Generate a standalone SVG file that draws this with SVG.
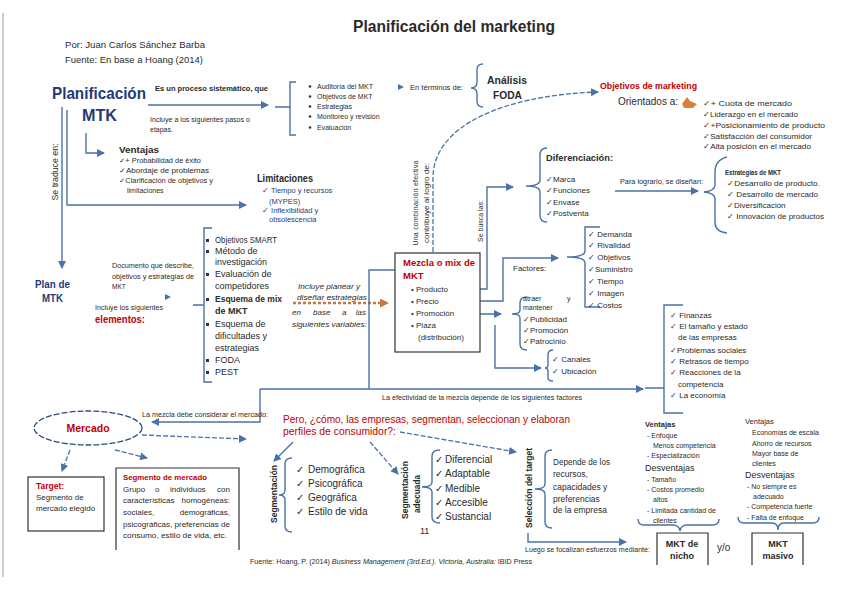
<svg xmlns="http://www.w3.org/2000/svg" width="848" height="599" viewBox="0 0 848 599">
<defs>
<style>
text{font-family:"Liberation Sans",Arial,sans-serif;fill:#2a2a2a}
.b{font-weight:bold}
.nv{fill:#1F3A7A}
.rd{fill:#C00000}
.i{font-style:italic}
.e{text-anchor:end}
.ln{stroke:#4A72A8;fill:none;stroke-width:1.4}
.dl{stroke:#4A72A8;fill:none;stroke-width:1.3;stroke-dasharray:5 2}
.bx{stroke:#333;fill:#fff;stroke-width:1.2}
.s65{font-size:6.5px}.s7{font-size:7px}.s75{font-size:7.5px}.s8{font-size:8px}.s85{font-size:8.5px}.s9{font-size:9px}.s10{font-size:10px}
</style>
<marker id="a" markerUnits="userSpaceOnUse" markerWidth="8" markerHeight="8" refX="7" refY="4" orient="auto"><path d="M0,0 L8,4 L0,8 z" fill="#4A72A8"/></marker>
<marker id="ao" markerUnits="userSpaceOnUse" markerWidth="9" markerHeight="9" refX="8" refY="4.5" orient="auto"><path d="M0,0 L9,4.5 L0,9 z" fill="#C8783C"/></marker>
</defs>
<rect width="848" height="599" fill="#fff"/>
<line x1="3" y1="13" x2="3" y2="577" stroke="#999" stroke-width="1"/>

<g id="title"><text x="353" y="32" font-size="16" class="b" textLength="202" lengthAdjust="spacingAndGlyphs">Planificación del marketing</text></g>
<g id="author">
<text x="65" y="48" class="s85" textLength="140" lengthAdjust="spacingAndGlyphs">Por: Juan Carlos Sánchez Barba</text>
<text x="65" y="63" class="s85" textLength="138" lengthAdjust="spacingAndGlyphs">Fuente: En base a Hoang (2014)</text>
</g>

<g id="connectors">
<path class="ln" d="M148,105 H268" marker-end="url(#a)"/>
<path class="ln" d="M275,107 H290 M296,82 H290 V135 H296"/>
<path class="ln" d="M483,64 Q477,64 477,70 V82 Q477,88 471,88 Q477,88 477,94 V101 Q477,107 483,107"/>
<path class="dl" d="M433,252 V178 C433,125 505,95 598,92" marker-end="url(#a)"/>
<path class="ln" d="M86,133 V153 H104" marker-end="url(#a)"/>
<path class="ln" d="M62,107 V268" marker-end="url(#a)"/>
<path class="ln" d="M67,110 V205 H246" marker-end="url(#a)"/>
<path class="ln" d="M212,228 H204 V382 H212 M193,305 H204"/>
<path d="M293,303 H388" stroke="#C8783C" stroke-width="2.5" stroke-dasharray="3 2" fill="none" marker-end="url(#ao)"/>
<path class="ln" d="M457,289 H487 V187 H513" marker-end="url(#a)"/>
<path class="ln" d="M547,148 Q540,148 540,155 V180 Q540,186 526,186 Q540,186 540,192 V215 Q540,222 547,222"/>
<path class="ln" d="M615,191 H698" marker-end="url(#a)"/>
<path class="ln" d="M727,157 Q715,160 715,172 V185 Q715,191 704,192 Q715,193 715,199 V222 Q715,232 727,233"/>
<path class="ln" d="M436,301 H503 V258 H558" marker-end="url(#a)"/>
<path class="ln" d="M600,227 H585 V251 Q585,257 567,257 Q585,257 585,263 V307 H600"/>
<path class="ln" d="M458,314 H501" marker-end="url(#a)"/>
<path class="ln" d="M527,297 Q520,297 520,303 V310 Q520,314 512,314 Q520,314 520,318 V344 Q520,350 527,350"/>
<path class="ln" d="M495,325 V368 H541" marker-end="url(#a)"/>
<path class="ln" d="M553,350 Q548,350 548,355 V365 Q548,368 545,368 Q548,368 548,371 V378 Q548,381 553,381"/>
<path class="ln" d="M397,270 H369 V389 M260,389 H643" marker-end="url(#a)"/>
<path class="ln" d="M260,389 V422 H152" marker-end="url(#a)"/>
<path class="ln" d="M645,388 H664 M683,305 H664 V413 H683"/>
<path class="dl" d="M142,435 L246,439" marker-end="url(#a)"/>
<path class="dl" d="M70,450 L62,471" marker-end="url(#a)"/>
<path class="dl" d="M115,450 L147,458" marker-end="url(#a)"/>
<path class="ln" d="M293,442 L274,461" marker-end="url(#a)"/>
<path class="dl" d="M370,442 L398,474" marker-end="url(#a)"/>
<path class="dl" d="M400,432 L516,452" marker-end="url(#a)"/>
<path class="ln" d="M292,458 Q285,458 285,464 V490 Q285,495 279,495 Q285,495 285,500 V526 Q285,532 292,532"/>
<path class="ln" d="M440,450 Q432,450 432,456 V482 Q432,487 422,487 Q432,487 432,492 V517 Q432,523 440,523"/>
<path class="ln" d="M552,450 Q545,450 545,456 V484 Q545,489 535,489 Q545,489 545,494 V522 Q545,528 552,528"/>
<path class="ln" d="M528,533 V542 H626" marker-end="url(#a)"/>
<path class="ln" d="M638,519 Q638,525 644,525 H673 Q679,525 680,531 Q681,525 687,525 H713 Q719,525 719,519"/>
<path class="ln" d="M738,517 Q738,523 744,523 H772 Q778,523 778,530 Q778,523 784,523 H813 Q819,523 819,517"/>
<polygon points="398,84 404,87 398,90" fill="#4A72A8"/>
<polygon points="165,294 171,297 165,300" fill="#4A72A8"/>
</g>

<g id="planificacion">
<text x="52" y="99" font-size="17" class="b nv" textLength="94" lengthAdjust="spacingAndGlyphs">Planificación</text>
<text x="82" y="121" font-size="16" class="b nv" textLength="35" lengthAdjust="spacingAndGlyphs">MTK</text>
<text x="155" y="91" class="s75 b" textLength="113" lengthAdjust="spacingAndGlyphs">Es un proceso sistemático, que</text>
<text x="150" y="122" class="s7" textLength="100" lengthAdjust="spacingAndGlyphs">Incluye a los siguientes pasos o</text>
<text x="150" y="132" class="s7">etapas.</text>
</g>

<g id="pasos" class="s7">
<circle cx="310" cy="86.5" r="1.3" fill="#333"/><text x="317" y="89">Auditoría del MKT</text>
<circle cx="310" cy="96.5" r="1.3" fill="#333"/><text x="317" y="99">Objetivos de MKT</text>
<circle cx="310" cy="106.5" r="1.3" fill="#333"/><text x="317" y="109">Estrategias</text>
<circle cx="310" cy="116.5" r="1.3" fill="#333"/><text x="317" y="119">Monitoreo y revisión</text>
<circle cx="310" cy="127.5" r="1.3" fill="#333"/><text x="317" y="130">Evaluación</text>
</g>

<g id="foda">
<text x="410" y="90" class="s7" textLength="53" lengthAdjust="spacingAndGlyphs">En términos de:</text>
<text x="487" y="84" font-size="10.5" class="b" textLength="40" lengthAdjust="spacingAndGlyphs">Análisis</text>
<text x="493" y="99" font-size="10" class="b" textLength="29" lengthAdjust="spacingAndGlyphs">FODA</text>
</g>

<g id="objetivos">
<text x="600" y="89" class="s9 b rd" textLength="97" lengthAdjust="spacingAndGlyphs">Objetivos de marketing</text>
<text x="618" y="105" font-size="10.5" textLength="60" lengthAdjust="spacingAndGlyphs">Orientados a:</text>
<path d="M682,104 L687,97 L690,101 L697,104 L693,108 L684,108 Z" fill="#D9803E"/>
<text x="703" y="106" class="s8" textLength="89" lengthAdjust="spacingAndGlyphs">✓+ Cuota de mercado</text>
<text x="703" y="117" class="s8" textLength="95" lengthAdjust="spacingAndGlyphs">✓Liderazgo en el mercado</text>
<text x="703" y="128" class="s8" textLength="122" lengthAdjust="spacingAndGlyphs">✓+Posicionamiento de producto</text>
<text x="703" y="139" class="s8" textLength="109" lengthAdjust="spacingAndGlyphs">✓Satisfacción del consumidor</text>
<text x="703" y="149" class="s8" textLength="108" lengthAdjust="spacingAndGlyphs">✓Alta posición en el mercado</text>
</g>

<g id="ventajas">
<text x="119" y="153" class="s9 b" textLength="40" lengthAdjust="spacingAndGlyphs">Ventajas</text>
<text x="119" y="163" class="s7" textLength="82" lengthAdjust="spacingAndGlyphs">✓+ Probabilidad de éxito</text>
<text x="119" y="173" class="s7" textLength="90" lengthAdjust="spacingAndGlyphs">✓Abordaje de problemas</text>
<text x="119" y="183" class="s7" textLength="94" lengthAdjust="spacingAndGlyphs">✓Clarificación de objetivos y</text>
<text x="127" y="193" class="s7">limitaciones</text>
</g>

<g id="setraduce"><text transform="translate(58,172) rotate(-90)" text-anchor="middle" class="s85" textLength="57" lengthAdjust="spacingAndGlyphs">Se traduce en:</text></g>

<g id="limitaciones">
<text x="257" y="182" class="s10 b" textLength="56" lengthAdjust="spacingAndGlyphs">Limitaciones</text>
<text x="262" y="193" class="s75 nv">✓ Tiempo y recursos</text>
<text x="269" y="204" class="s75 nv">(MYPES)</text>
<text x="262" y="213" class="s75 nv">✓ Inflexibilidad y</text>
<text x="269" y="222" class="s75 nv">obsolescencia</text>
</g>

<g id="plan">
<text x="35" y="288" class="s10 b nv" textLength="35" lengthAdjust="spacingAndGlyphs">Plan de</text>
<text x="42" y="302" class="s10 b nv" textLength="21" lengthAdjust="spacingAndGlyphs">MTK</text>
<text x="112" y="268" class="s65" textLength="82" lengthAdjust="spacingAndGlyphs">Documento que describe,</text>
<text x="112" y="279" class="s65" textLength="82" lengthAdjust="spacingAndGlyphs">objetivos y estrategias de</text>
<text x="112" y="289" class="s65">MKT</text>
<text x="95" y="310" class="s7" textLength="68" lengthAdjust="spacingAndGlyphs">Incluye los siguientes</text>
<text x="95" y="323" font-size="11" class="b rd" textLength="50" lengthAdjust="spacingAndGlyphs">elementos:</text>
</g>

<g id="elementos" class="s9">
<rect x="206" y="239" width="3" height="3" fill="#333"/><text x="215" y="243" textLength="62" lengthAdjust="spacingAndGlyphs">Objetivos SMART</text>
<rect x="206" y="250" width="3" height="3" fill="#333"/><text x="215" y="254">Método de</text>
<text x="215" y="265">investigación</text>
<rect x="206" y="273" width="3" height="3" fill="#333"/><text x="215" y="277">Evaluación de</text>
<text x="215" y="289">competidores</text>
<rect x="206" y="298" width="3" height="3" fill="#333"/><text x="215" y="302" class="b" textLength="67" lengthAdjust="spacingAndGlyphs">Esquema de mix</text>
<text x="215" y="314" class="b">de MKT</text>
<rect x="206" y="323" width="3" height="3" fill="#333"/><text x="215" y="327">Esquema de</text>
<text x="215" y="339">dificultades y</text>
<text x="215" y="351">estrategias</text>
<rect x="206" y="359" width="3" height="3" fill="#333"/><text x="215" y="363">FODA</text>
<rect x="206" y="371" width="3" height="3" fill="#333"/><text x="215" y="375">PEST</text>
</g>

<g id="incluye" class="s8 i">
<text x="298" y="289" textLength="62" lengthAdjust="spacingAndGlyphs">Incluye planear y</text>
<text x="297" y="300" textLength="70" lengthAdjust="spacingAndGlyphs">diseñar estrategias</text>
<text x="292" y="315">en</text><text x="313" y="315">base</text><text x="342" y="315">a</text><text x="366" y="315" class="e">las</text>
<text x="292" y="327" textLength="75" lengthAdjust="spacingAndGlyphs">siguientes variables:</text>
</g>

<g id="mezcla">
<rect class="bx" x="395" y="253" width="85" height="99"/>
<text x="403" y="266" font-size="9.5" class="b rd" textLength="72" lengthAdjust="spacingAndGlyphs">Mezcla o mix de</text>
<text x="403" y="279" font-size="9.5" class="b rd">MKT</text>
<text x="411" y="292" class="s8">•  Producto</text>
<text x="411" y="304" class="s8">•  Precio</text>
<text x="411" y="316" class="s8">•  Promoción</text>
<text x="411" y="328" class="s8">•  Plaza</text>
<text x="418" y="340" class="s8">(distribución)</text>
</g>

<g id="vert">
<text transform="translate(418,203) rotate(-90)" text-anchor="middle" class="s7" textLength="85" lengthAdjust="spacing">Una combinación efectiva</text>
<text transform="translate(429,203) rotate(-90)" text-anchor="middle" class="s7" textLength="80" lengthAdjust="spacingAndGlyphs">contribuye al logro de:</text>
<text transform="translate(483,221) rotate(-90)" text-anchor="middle" class="s75" textLength="42" lengthAdjust="spacingAndGlyphs">Se busca las:</text>
</g>

<g id="diferenciacion">
<text x="546" y="161" font-size="9.5" class="b" textLength="67" lengthAdjust="spacingAndGlyphs">Diferenciación:</text>
<text x="546" y="182" class="s8">✓Marca</text>
<text x="546" y="193" class="s8">✓Funciones</text>
<text x="546" y="205" class="s8">✓Envase</text>
<text x="546" y="216" class="s8">✓Postventa</text>
<text x="620" y="184" class="s65" textLength="83" lengthAdjust="spacingAndGlyphs">Para lograrlo, se diseñan:</text>
</g>

<g id="estrategias">
<text x="725" y="175" class="s75 b" textLength="56" lengthAdjust="spacingAndGlyphs">Estrategias de MKT</text>
<text x="727" y="186" class="s8" textLength="93" lengthAdjust="spacingAndGlyphs">✓Desarrollo de producto.</text>
<text x="727" y="197" class="s8" textLength="91" lengthAdjust="spacingAndGlyphs">✓ Desarrollo de mercado</text>
<text x="727" y="208" class="s8">✓Diversificación</text>
<text x="727" y="219" class="s8" textLength="97" lengthAdjust="spacingAndGlyphs">✓ Innovación de productos</text>
</g>

<g id="factores" class="s8">
<text x="513" y="271">Factores:</text>
<text x="588" y="237">✓ Demanda</text>
<text x="588" y="248">✓ Rivalidad</text>
<text x="588" y="260">✓ Objetivos</text>
<text x="588" y="272">✓Suministro</text>
<text x="588" y="284">✓ Tiempo</text>
<text x="588" y="296">✓ Imagen</text>
<text x="588" y="308">✓ Costos</text>
</g>

<g id="promocion" class="s8">
<text x="523" y="301" class="s7">atraer</text><text x="567" y="301" class="s7">y</text>
<text x="523" y="310" class="s7">mantener</text>
<text x="523" y="322">✓Publicidad</text>
<text x="523" y="333">✓Promoción</text>
<text x="523" y="344">✓Patrocinio</text>
</g>

<g id="plaza" class="s8">
<text x="552" y="362">✓ Canales</text>
<text x="552" y="374">✓ Ubicación</text>
</g>

<g id="efectividad"><text x="382" y="400" class="s65" textLength="200" lengthAdjust="spacingAndGlyphs">La efectividad de la mezcla depende de los siguientes factores</text></g>

<g id="finanzas" class="s8">
<text x="670" y="318">✓ Finanzas</text>
<text x="670" y="329">✓ El tamaño y estado</text>
<text x="678" y="340">de las empresas</text>
<text x="670" y="353">✓Problemas sociales</text>
<text x="670" y="364">✓ Retrasos de tiempo</text>
<text x="670" y="375">✓ Reacciones de la</text>
<text x="678" y="387">competencia</text>
<text x="670" y="398">✓ La economía</text>
</g>

<g id="mercado">
<ellipse cx="88" cy="428" rx="54" ry="17" fill="none" stroke="#2E4A7A" stroke-width="1.3" stroke-dasharray="6 2"/>
<text x="88" y="432" text-anchor="middle" font-size="10.5" class="b rd">Mercado</text>
<text x="142" y="417" class="s65" textLength="126" lengthAdjust="spacingAndGlyphs">La mezcla debe considerar el mercado:</text>
</g>

<g id="target">
<rect class="bx" x="28" y="477" width="76" height="54"/>
<text x="36" y="489" class="s85 b rd">Target:</text>
<text x="36" y="500" class="s8">Segmento de</text>
<text x="36" y="511" class="s8">mercado elegido</text>
</g>

<g id="segmento" class="s8">
<path class="bx" d="M116,550 V468 H239 V550"/>
<text x="123" y="480" class="b rd" textLength="84" lengthAdjust="spacingAndGlyphs">Segmento de mercado</text>
<text x="123" y="492">Grupo</text><text x="155" y="492">o</text><text x="170" y="492">individuos</text><text x="230" y="492" class="e">con</text>
<text x="123" y="503">características</text><text x="230" y="503" class="e">homogéneas:</text>
<text x="123" y="515">sociales,</text><text x="230" y="515" class="e">demográficas,</text>
<text x="123" y="527" textLength="107" lengthAdjust="spacingAndGlyphs">psicográficas, preferencias de</text>
<text x="123" y="538" textLength="104" lengthAdjust="spacingAndGlyphs">consumo, estilo de vida, etc.</text>
</g>

<g id="pregunta">
<text x="283" y="423" font-size="11" class="rd" textLength="287" lengthAdjust="spacingAndGlyphs">Pero, ¿cómo, las empresas, segmentan, seleccionan y elaboran</text>
<text x="283" y="435" font-size="11" class="rd" textLength="113" lengthAdjust="spacingAndGlyphs">perfiles de consumidor?:</text>
</g>

<g id="segmentacion">
<text transform="translate(277,494) rotate(-90)" text-anchor="middle" class="s9 b" textLength="58" lengthAdjust="spacingAndGlyphs">Segmentación</text>
<g class="s10">
<text x="296" y="473">✓</text><text x="308" y="473">Demográfica</text>
<text x="296" y="487">✓</text><text x="308" y="487">Psicográfica</text>
<text x="296" y="501">✓</text><text x="308" y="501">Geográfica</text>
<text x="296" y="515">✓</text><text x="308" y="515">Estilo de vida</text>
</g>
</g>

<g id="adecuada">
<text transform="translate(408,490) rotate(-90)" text-anchor="middle" class="s85 b" textLength="58" lengthAdjust="spacingAndGlyphs">Segmentación</text>
<text transform="translate(420,494) rotate(-90)" text-anchor="middle" class="s85 b" textLength="38" lengthAdjust="spacingAndGlyphs">adecuada</text>
<g class="s10">
<text x="435" y="463">✓</text><text x="445" y="463">Diferencial</text>
<text x="435" y="477">✓</text><text x="445" y="477">Adaptable</text>
<text x="435" y="492">✓</text><text x="445" y="492">Medible</text>
<text x="435" y="506">✓</text><text x="445" y="506">Accesible</text>
<text x="435" y="520">✓</text><text x="445" y="520">Sustancial</text>
</g>
<text x="420" y="534" class="s9" fill="#555">11</text>
</g>

<g id="seleccion">
<text transform="translate(532,488) rotate(-90)" text-anchor="middle" class="s85 b" textLength="80" lengthAdjust="spacingAndGlyphs">Selección del target</text>
<text x="553" y="465" class="s85" textLength="57" lengthAdjust="spacingAndGlyphs">Depende de los</text>
<text x="553" y="477" class="s85">recursos,</text>
<text x="553" y="490" class="s85">capacidades y</text>
<text x="553" y="502" class="s85">preferencias</text>
<text x="553" y="513" class="s85">de la empresa</text>
<text x="525" y="552" class="s65" textLength="125" lengthAdjust="spacingAndGlyphs">Luego se focalizan esfuerzos mediante:</text>
</g>

<g id="nicho">
<text x="645" y="427" class="s75 b">Ventajas</text>
<text x="647" y="438" class="s7">-  Enfoque</text>
<text x="653" y="448" class="s7">Menos competencia</text>
<text x="647" y="458" class="s7">-  Especialización</text>
<text x="645" y="471" class="s9">Desventajas</text>
<text x="647" y="482" class="s7">-  Tamaño</text>
<text x="647" y="492" class="s7">-  Costos promedio</text>
<text x="653" y="502" class="s7">altos</text>
<text x="647" y="513" class="s7">-  Limitada cantidad de</text>
<text x="653" y="523" class="s7">clientes</text>
<path class="bx" d="M657,565 V533 H708 V565"/>
<text x="682" y="547" text-anchor="middle" class="s9 b">MKT de</text>
<text x="682" y="559" text-anchor="middle" class="s9 b">nicho</text>
<text x="717" y="551" class="s10">y/o</text>
</g>

<g id="masivo">
<text x="745" y="424" class="s75">Ventajas</text>
<text x="752" y="435" class="s7">Economías de escala</text>
<text x="752" y="446" class="s7">Ahorro de recursos</text>
<text x="752" y="456" class="s7">Mayor base de</text>
<text x="752" y="466" class="s7">clientes</text>
<text x="745" y="478" class="s9">Desventajas</text>
<text x="747" y="489" class="s7">-  No siempre es</text>
<text x="753" y="499" class="s7">adecuado</text>
<text x="747" y="509" class="s7">-  Competencia fuerte</text>
<text x="747" y="520" class="s7">-  Falta de enfoque</text>
<path class="bx" d="M752,565 V533 H803 V565"/>
<text x="778" y="547" text-anchor="middle" class="s9 b">MKT</text>
<text x="778" y="559" text-anchor="middle" class="s9 b">masivo</text>
</g>

<g id="fuente">
<text x="250" y="564" class="s65" textLength="282" lengthAdjust="spacingAndGlyphs">Fuente: Hoang, P. (2014) <tspan class="i">Business Management (3rd.Ed.). Victoria, Australia:</tspan> IBID Press</text>
</g>
</svg>
